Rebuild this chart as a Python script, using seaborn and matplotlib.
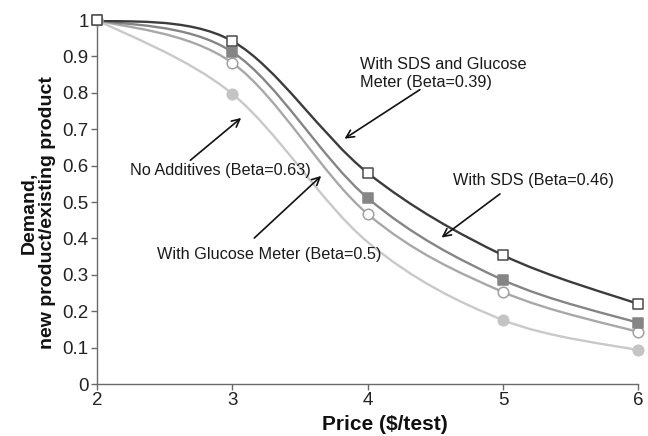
import numpy as np
import pandas as pd
import matplotlib
matplotlib.use("Agg")
import matplotlib.pyplot as plt
from matplotlib.path import Path
from matplotlib.patches import PathPatch
import seaborn as sns

# Demand ratio (new / existing product) at each price point
price = [2, 3, 4, 5, 6]
sds_glucose = [1.0, 0.942, 0.580, 0.354, 0.220]
sds = [1.0, 0.912, 0.511, 0.286, 0.168]
glucose = [1.0, 0.882, 0.467, 0.253, 0.143]
no_additives = [1.0, 0.797, 0.390, 0.176, 0.093]

y_ticks = [0, 0.1, 0.2, 0.3, 0.4, 0.5, 0.6, 0.7, 0.8, 0.9, 1]
y_tick_labels = ["0", "0.1", "0.2", "0.3", "0.4", "0.5", "0.6", "0.7", "0.8", "0.9", "1"]

sns.set_theme(style="white")
plt.rcParams['font.family'] = ['Liberation Sans', 'DejaVu Sans']

fig = plt.figure(figsize=(6.48, 4.36), dpi=100)
ax = fig.add_axes([0.150, 0.119, 0.835, 0.835])


def smooth_path(xs, ys):
    """Cubic Bezier path through the points (Catmull-Rom style smoothing)."""
    pts = np.column_stack([xs, ys]).astype(float)
    n = len(pts)
    verts = [pts[0]]
    codes = [Path.MOVETO]
    for i in range(n - 1):
        p0 = pts[max(i - 1, 0)]
        p1 = pts[i]
        p2 = pts[i + 1]
        p3 = pts[min(i + 2, n - 1)]
        verts += [p1 + (p2 - p0) / 6.0, p2 - (p3 - p1) / 6.0, p2]
        codes += [Path.CURVE4] * 3
    return Path(verts, codes)


series = [
    # values, line colour, marker, face, edge, marker indices
    (no_additives, "#c9c9c9", "o", "#c4c4c4", "#c4c4c4", [0, 1, 3, 4]),
    (glucose, "#a8a8a8", "o", "white", "#a0a0a0", [0, 1, 2, 3, 4]),
    (sds, "#858585", "s", "#858585", "#858585", [0, 1, 2, 3, 4]),
    (sds_glucose, "#3c3c3c", "s", "white", "#4a4a4a", [0, 1, 2, 3, 4]),
]

for z, (vals, lc, mk, fc, ec, idx) in enumerate(series):
    patch = PathPatch(smooth_path(price, vals), facecolor="none", edgecolor=lc,
                      lw=1.7, zorder=2 + z, capstyle="round")
    ax.add_patch(patch)
    df = pd.DataFrame({"price": [price[i] for i in idx], "demand": [vals[i] for i in idx]})
    sns.scatterplot(data=df, x="price", y="demand", marker=mk, s=58,
                    color=fc, edgecolor=ec, linewidth=1.1, ax=ax,
                    zorder=6 + z, clip_on=False, legend=False)

ax.set_xlim(2, 6)
ax.set_ylim(0, 1)
ax.set_xticks(price)
ax.set_xticklabels([str(p) for p in price])
ax.set_yticks(y_ticks)
ax.set_yticklabels(y_tick_labels)

for side in ["top", "right"]:
    ax.spines[side].set_visible(False)
for side in ["left", "bottom"]:
    ax.spines[side].set_color("#6a6a6a")
    ax.spines[side].set_linewidth(1.0)

ax.tick_params(axis="both", which="major", direction="out", length=4, width=1.0,
               color="#6a6a6a", labelsize=13.5, labelcolor="#222222", pad=2)
ax.tick_params(axis="y", left=True)
ax.tick_params(axis="x", bottom=True)

ax.set_xlabel("Price ($/test)", fontsize=15, fontweight="bold", color="#111111")
ax.xaxis.set_label_coords(0.532, -0.085)
ax.set_ylabel("Demand,\nnew product/existing product", fontsize=14,
              fontweight="bold", color="#111111", linespacing=1.1)
ax.yaxis.set_label_coords(-0.076, 0.47)

arrow = dict(arrowstyle="->", color="#111111", lw=1.2, mutation_scale=14)
txt = dict(fontsize=11.7, color="#1a1a1a", va="center", ha="left")

ax.annotate("", xy=(3.811, 0.670), xytext=(4.403, 0.813), arrowprops=arrow, zorder=12)
ax.text(3.945, 0.853, "With SDS and Glucose\nMeter (Beta=0.39)", linespacing=1.2, **txt)

ax.annotate("", xy=(3.080, 0.736), xytext=(2.673, 0.610), arrowprops=arrow, zorder=12)
ax.text(2.244, 0.588, "No Additives (Beta=0.63)", **txt)

ax.annotate("", xy=(3.671, 0.577), xytext=(3.146, 0.396), arrowprops=arrow, zorder=12)
ax.text(2.444, 0.357, "With Glucose Meter (Beta=0.5)", **txt)

ax.annotate("", xy=(4.529, 0.398), xytext=(4.994, 0.527), arrowprops=arrow, zorder=12)
ax.text(4.632, 0.560, "With SDS (Beta=0.46)", **txt)

fig.savefig("out.png", dpi=100, facecolor="white")
